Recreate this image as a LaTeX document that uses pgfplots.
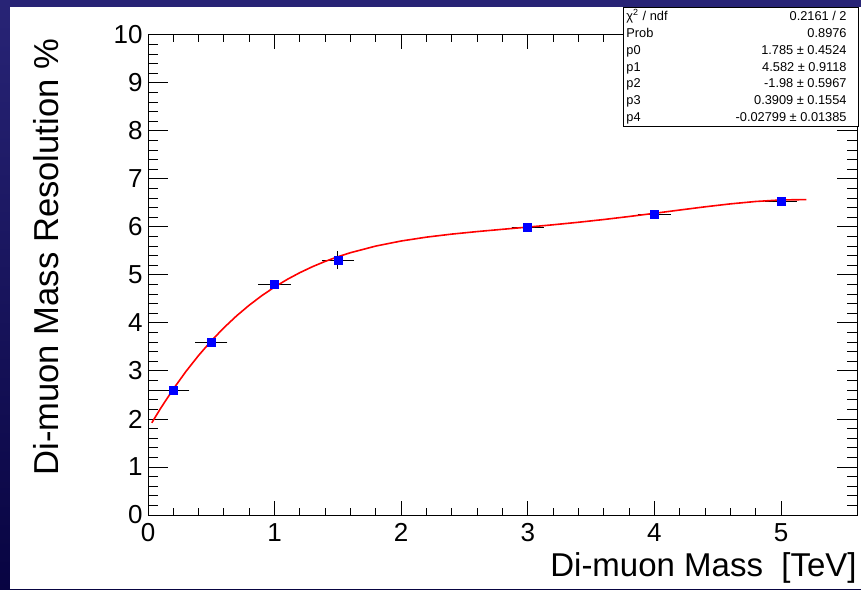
\documentclass[border=0pt]{standalone}
\usepackage{pgfplots}
\pgfplotsset{compat=1.18}
\usepackage{pgfplotstable}
\usepackage{fontspec}
\setmainfont{Liberation Sans}
\definecolor{slidetop}{RGB}{40,36,118}
\definecolor{slidebot}{RGB}{8,4,66}
\definecolor{mkblue}{RGB}{0,0,255}
\definecolor{fitred}{RGB}{255,0,0}

\pgfplotstableread{
x    y     ex   ey
0.2  2.60  0.1  0
0.5  3.59  0.1  0
1.0  4.81  0.1  0
1.5  5.31  0.1  0.11
3.0  5.99  0.1  0
4.0  6.27  0.1  0
5.0  6.54  0.1  0
}\measured

\pgfplotsset{
  rootaxis/.style={
    at={(74pt,37pt)}, anchor=south west, scale only axis,
    width=354.5pt, height=240pt,
    xmin=0, xmax=5.6, ymin=0, ymax=10,
    axis line style={line width=0.5pt, black},
    every tick/.style={black, line width=0.5pt},
    tick align=inside,
    /pgf/number format/assume math mode=true,
    ticklabel style={font=\fontsize{13}{15}\selectfont},
  }
}

\begin{document}
\begin{tikzpicture}
\shade[top color=slidetop,bottom color=slidebot] (0pt,0pt) rectangle (430.5pt,294.5pt);
\fill[white] (5pt,0pt) rectangle (430.5pt,291pt);

% axis 1: y ticks, data and fit
\begin{axis}[rootaxis,
  xtick=\empty,
  ytick={0,1,...,10},
  minor y tick num=4,
  major tick length=10pt, minor tick length=5pt,
  yticklabel style={inner sep=0pt, xshift=-2.5pt},
  ylabel={Di-muon Mass Resolution \%},
  ylabel style={at={(axis description cs:-0.1439,0.537)}, anchor=center,
    inner sep=0pt, font=\fontsize{17.3}{20}\selectfont},
]
\addplot[only marks, mark=square*, mark size=2pt,
  mark options={fill=mkblue, draw=mkblue},
  error bars/.cd, x dir=both, x explicit, y dir=both, y explicit,
  error bar style={black, line width=0.5pt},
  error mark options={black, line width=0.5pt, mark size=1.75pt}]
  table[x=x, y=y, x error=ex, y error=ey] {\measured};
\addplot[fitred, line width=0.8pt, no marks] coordinates {
(0.03,1.9207) (0.1,2.2238) (0.2,2.6253) (0.3,2.9917) (0.4,3.3253)
(0.5,3.6282) (0.6,3.9022) (0.7,4.1496) (0.8,4.3721) (0.9,4.5716)
(1.0,4.7499) (1.1,4.9087) (1.2,5.0496) (1.3,5.1743) (1.4,5.2841)
(1.5,5.3806) (1.6,5.4651) (1.8,5.6033) (2.0,5.7084) (2.2,5.7889)
(2.4,5.8522) (2.6,5.9048) (2.8,5.9520) (3.0,5.9981) (3.2,6.0463)
(3.4,6.0985) (3.6,6.1560) (3.8,6.2186) (4.0,6.2852) (4.2,6.3536)
(4.4,6.4205) (4.6,6.4816) (4.8,6.5316) (5.0,6.5638) (5.2,6.5707)
};
\end{axis}

% axis 2: x ticks
\begin{axis}[rootaxis,
  ytick=\empty,
  xtick={0,1,...,5},
  minor x tick num=4,
  major tick length=7pt, minor tick length=3.5pt,
  xticklabel style={inner sep=0pt, yshift=-4pt},
  xlabel={Di-muon Mass\ \ [TeV]},
  xlabel style={at={(axis description cs:1,0)}, anchor=base east,
    yshift=-30.5pt, inner sep=0pt, font=\fontsize{16.5}{19}\selectfont},
]
\end{axis}

% statistics box
\draw[black, line width=0.5pt, fill=white] (311.5pt,290.5pt) rectangle (429pt,231pt);
\begin{scope}[every node/.style={inner sep=0pt, font=\fontsize{6.4}{7.5}\selectfont}]
\node[anchor=base west] at (313pt,284.3pt) {χ\textsuperscript{2} / ndf};
\node[anchor=base east] at (423.5pt,284.3pt) {0.2161 / 2};
\node[anchor=base west] at (313pt,275.85pt) {Prob};
\node[anchor=base east] at (423.5pt,275.85pt) {0.8976};
\node[anchor=base west] at (313pt,267.4pt) {p0};
\node[anchor=base east] at (423.5pt,267.4pt) {1.785 ± 0.4524};
\node[anchor=base west] at (313pt,258.95pt) {p1};
\node[anchor=base east] at (423.5pt,258.95pt) {4.582 ± 0.9118};
\node[anchor=base west] at (313pt,250.5pt) {p2};
\node[anchor=base east] at (423.5pt,250.5pt) {-1.98 ± 0.5967};
\node[anchor=base west] at (313pt,242.05pt) {p3};
\node[anchor=base east] at (423.5pt,242.05pt) {0.3909 ± 0.1554};
\node[anchor=base west] at (313pt,233.6pt) {p4};
\node[anchor=base east] at (423.5pt,233.6pt) {-0.02799 ± 0.01385};
\end{scope}
\end{tikzpicture}
\end{document}
